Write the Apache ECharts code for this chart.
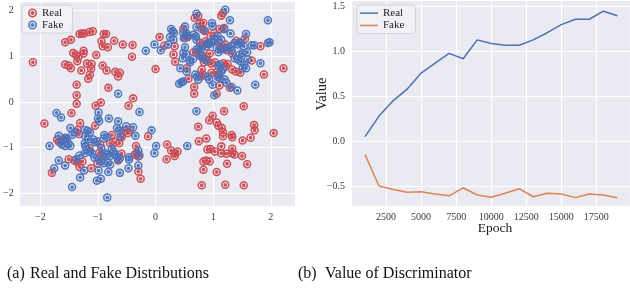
<!DOCTYPE html>
<html><head><meta charset="utf-8">
<script src="https://cdn.jsdelivr.net/npm/echarts@6/dist/echarts.min.js"></script>
<style>html,body{margin:0;padding:0;background:#fff}#c{width:630px;height:288px}</style>
</head><body><div id="c"></div>
<script>
// ---- data ----
const realPoints = [
[-2.13,0.87],[-1.57,1.31],[-1.47,1.36],[-1.32,1.49],[-1.28,1.50],[-1.24,1.50],[-1.15,1.53],[-1.09,1.55],[-0.90,1.49],[-0.86,1.49],[-0.94,1.33],[-0.92,1.22],[-0.83,1.20],[-0.72,1.34],[-0.57,1.26],[-0.40,1.25],[-0.41,0.99],[-1.43,1.07],[-1.38,1.03],[-1.34,0.99],[-1.36,0.89],[-1.25,1.12],[-1.25,1.06],[-1.03,1.03],[-1.57,0.82],[-1.51,0.80],[-1.47,0.74],[-1.29,0.69],[-1.19,0.84],[-1.11,0.83],[-1.12,0.73],[-1.14,0.60],[-1.17,0.51],[-0.92,0.80],[-0.85,0.69],[-0.70,0.66],[-0.62,0.64],[-0.65,0.56],[-1.37,0.38],[-0.82,0.31],[-1.37,0.15],[-1.37,-0.04],[-0.95,-0.01],[-1.04,-0.08],[-0.39,0.08],[-0.47,-0.08],[0.00,0.72],
[0.07,1.42],[0.15,1.23],[0.33,1.22],[0.31,1.04],[0.34,0.88],[0.48,1.60],[0.51,1.40],[0.56,1.42],[0.54,0.74],[0.57,0.51],[0.67,0.33],[0.67,0.18],[0.68,1.84],[0.74,1.88],[0.77,1.72],[0.83,1.73],[0.80,1.60],[0.86,1.55],[0.77,1.29],[0.83,1.25],[0.87,1.33],[0.66,1.09],[0.71,1.08],[0.80,1.02],[0.88,0.99],[0.94,1.06],[0.84,0.87],[0.91,0.89],[0.97,0.84],[1.03,0.87],[0.80,0.71],[0.82,0.60],[0.79,0.56],[0.97,0.64],[1.06,0.65],[1.10,0.59],[1.14,1.89],[1.17,1.95],[1.11,1.60],[1.19,1.62],[0.96,1.44],[1.02,1.51],[1.10,1.29],[1.14,1.18],[1.21,1.26],[1.24,1.13],[1.33,1.06],[1.18,0.85],[1.25,0.83],[1.22,0.78],[1.33,0.71],[1.39,0.67],[1.47,0.64],[1.11,0.36],[1.29,0.31],[1.06,0.18],[1.55,1.38],[1.67,0.91],[1.82,1.22],[1.88,0.60],[2.22,0.74],[1.40,1.34],
[1.19,-0.20],[1.53,-0.09],[0.99,-0.30],[0.93,-0.40],[1.06,-0.45],[1.09,-0.52],[1.15,-0.57],[1.17,-0.66],[1.17,-0.75],[0.74,-0.54],[0.88,-0.80],[0.75,-0.86],[1.32,-0.72],[1.33,-0.77],[1.51,-0.84],[1.65,-0.78],[1.71,-0.50],[1.72,-0.62],[2.05,-0.68],[1.14,-0.97],[0.90,-1.04],[0.95,-1.03],[1.03,-1.08],[1.14,-1.12],[1.23,-1.13],[1.33,-1.02],[1.33,-1.12],[1.37,-1.15],[1.50,-1.18],[0.83,-1.30],[0.88,-1.28],[0.94,-1.30],[1.24,-1.35],[1.59,-1.36],[0.83,-1.48],[1.06,-1.53],[0.80,-1.82],[1.21,-1.81],[1.53,-1.82],
[-0.13,-0.75],[0.20,-0.93],[0.27,-1.06],[0.33,-1.12],[0.38,-1.08],[0.19,-1.25],[0.33,-1.18],
[-1.93,-0.47],[-1.46,-0.24],[-1.31,-0.46],[-1.35,-0.61],[-1.33,-0.70],[-1.71,-0.82],[-1.68,-0.87],[-1.62,-0.84],[-1.58,-0.80],[-1.05,-0.52],[-0.96,-0.93],[-1.15,-1.01],[-0.79,-0.90],[-0.70,-0.88],[-0.63,-0.90],[-0.59,-0.77],[-0.54,-0.63],[-0.48,-0.68],[-0.45,-0.61],[-0.76,-0.72],[-0.34,-0.96],[-0.33,-1.12],[-0.36,-1.15],[-0.30,-1.19],[-0.59,-1.13],[-0.98,-1.12],[-0.94,-1.18],[-1.01,-1.34],[-1.27,-1.30],[-1.51,-1.25],[-1.41,-1.28],[-1.36,-1.31],[-1.32,-1.42],[-1.12,-1.45],[-0.30,-1.52],[-0.26,-1.68],[-1.80,-1.55],[-0.65,-1.28]
];
const fakePoints = [
[-0.17,1.12],[-0.02,1.26],[0.09,1.13],[0.22,1.26],[0.27,1.60],[0.30,1.55],[0.32,1.51],[0.25,1.42],[0.31,1.36],[0.51,1.65],[0.54,1.50],[0.66,1.47],[0.70,1.44],[0.71,1.36],[0.51,1.20],[0.53,1.05],[0.47,0.96],[0.60,0.87],[0.43,0.74],[0.45,0.43],[0.41,0.40],[0.71,1.93],[0.71,1.64],[0.98,1.73],[0.99,1.66],[0.84,1.57],[0.71,1.15],[0.76,1.18],[0.79,1.16],[0.82,0.96],[0.88,0.91],[0.69,0.60],[0.72,0.56],[0.74,0.49],[0.90,0.56],[0.93,0.49],[0.99,0.38],[1.02,0.15],[0.88,1.22],[0.93,1.27],[0.97,1.31],[1.03,1.36],[1.06,1.18],[1.09,1.09],[1.14,1.15],[1.20,1.16],[1.26,1.18],[1.32,1.13],[1.21,2.02],[1.29,1.79],[1.19,1.59],[1.30,1.50],[1.37,1.29],[1.43,1.26],[1.46,1.31],[1.53,1.22],[1.59,1.09],[1.57,1.49],[1.37,0.96],[1.46,1.04],[1.47,0.89],[1.54,0.82],[1.57,0.74],[1.09,0.78],[1.14,0.67],[1.20,0.49],[1.23,0.42],[1.32,0.33],[1.42,0.25],[1.11,0.53],[1.71,1.24],[1.67,1.24],[1.82,0.85],[1.73,0.38],[1.95,1.79],[1.95,1.29],[1.98,1.31],
[0.48,1.51],[0.49,1.40],[0.56,1.45],[0.48,1.07],[0.54,0.67],[0.48,0.45],[1.11,0.82],[1.17,0.72],[1.08,0.55],[1.43,0.93],[1.51,1.07],[1.51,0.74],[1.60,0.93],[0.91,1.29],[1.02,1.38],[1.08,1.44],[1.31,1.22],[0.65,0.94],[0.78,1.00],[1.48,1.29],[1.14,1.36],[0.59,0.91],
[-0.65,0.18],[-1.72,-0.24],[-1.64,-0.34],[-0.99,-0.23],[-1.00,-0.36],[-0.98,-0.42],[-0.81,-0.36],[-0.65,-0.42],[-0.28,-0.22],[-1.48,-0.57],[-1.45,-0.72],[-1.40,-0.66],[-1.23,-0.61],[-1.18,-0.63],[-1.14,-0.66],[-1.22,-0.75],[-1.17,-0.82],[-0.89,-0.72],[-0.84,-0.77],[-0.90,-0.80],[-0.67,-0.57],[-0.63,-0.62],[-0.61,-0.75],[-0.51,-0.53],[-0.39,-0.55],[-0.35,-0.74],[-0.07,-0.62],[-1.84,-0.96],[-1.68,-0.74],[-1.65,-0.88],[-1.63,-0.93],[-1.57,-0.96],[-1.51,-0.91],[-1.48,-0.96],[-1.23,-0.90],[-1.22,-0.97],[-1.19,-1.04],[-1.23,-1.12],[-1.08,-0.82],[-1.05,-0.88],[-1.02,-0.86],[-1.14,-1.08],[-1.10,-1.12],[-0.94,-1.01],[-0.88,-1.12],[-0.85,-1.16],[-0.79,-1.18],[-0.70,-1.15],[-0.76,-1.02],[-0.73,-1.08],[-0.67,-1.19],[-0.62,-1.23],[-1.32,-1.17],[-1.06,-1.22],[-0.98,-1.26],[-0.94,-1.30],[-0.90,-1.34],[-0.83,-1.32],[-0.79,-1.37],[-0.65,-1.25],[-0.46,-1.21],[-0.46,-1.26],[-0.30,-1.06],[-0.28,-1.17],[-0.30,-1.39],[-0.47,-1.45],[-0.62,-1.55],[-0.82,-1.53],[-0.99,-1.50],[-1.24,-1.50],[-1.57,-1.39],[-1.68,-1.28],[-1.76,-1.45],[-1.31,-1.65],[-1.02,-1.72],[-0.95,-1.68],[-1.45,-1.86],[-0.84,-2.09],[0.01,-0.96],[-0.02,-1.12],[0.55,-0.96],[0.71,-0.20],[-1.57,-0.78],[-1.54,-0.80],[-1.38,-1.25]
];
const epochs = [1000,2000,3000,4000,5000,6000,7000,8000,9000,10000,11000,12000,13000,14000,15000,16000,17000,18000,19000];
const realValues = [0.05,0.28,0.45,0.58,0.76,0.87,0.98,0.92,1.13,1.09,1.07,1.07,1.13,1.21,1.30,1.36,1.36,1.45,1.40];
const fakeValues = [-0.15,-0.50,-0.54,-0.57,-0.565,-0.59,-0.61,-0.52,-0.60,-0.625,-0.58,-0.53,-0.62,-0.58,-0.59,-0.63,-0.59,-0.60,-0.63];
const seriesNames = ['Real','Fake'];
const captionA = ['(a)','Real and Fake Distributions'];
const captionB = ['(b)','Value of Discriminator'];
const xNameB = 'Epoch';
const yNameB = 'Value';

// ---- style ----
const SERIF = "'Liberation Serif','Times New Roman',serif";
const RED = '#cc4850', BLUE = '#4a72ba';
const LBLUE = '#4c72b0', LORANGE = '#dd8452';
const BG = '#eaeaf2';
const ring = 'path://M0,10A10,10,0,1,0,20,10A10,10,0,1,0,0,10ZM3.6,10A6.4,6.4,0,1,1,16.4,10A6.4,6.4,0,1,1,3.6,10ZM5.6,10A4.4,4.4,0,1,0,14.4,10A4.4,4.4,0,1,0,5.6,10Z';
const minus = s => String(s).replace('-', '\u2212');
const lbl = {fontFamily: SERIF, fontSize: 10, color: '#3a3a3a'};

const chart = echarts.init(document.getElementById('c'), null, {renderer: 'canvas'});
chart.setOption({
  animation: false,
  backgroundColor: '#fff',
  grid: [
    {left: 18, top: 1, width: 277, height: 205.7, show: true, backgroundColor: BG, borderWidth: 0},
    {left: 351, top: 0, right: 0, height: 206.7, show: true, backgroundColor: BG, borderWidth: 0}
  ],
  xAxis: [
    {type: 'value', gridIndex: 0, min: -2.36, max: 2.42, splitNumber: 5,
     axisLine: {show: false}, axisTick: {show: false},
     splitLine: {lineStyle: {color: '#fff', width: 1.2}},
     axisLabel: Object.assign({margin: 6, showMinLabel: false, showMaxLabel: false, formatter: v => minus(v)}, lbl)},
    {type: 'value', gridIndex: 1, min: 0, max: 19900, interval: 2500,
     axisLine: {show: false}, axisTick: {show: false},
     splitLine: {lineStyle: {color: '#fff', width: 1.2}},
     axisLabel: Object.assign({margin: 6, showMinLabel: false, showMaxLabel: false, formatter: v => String(v)}, lbl)}
  ],
  yAxis: [
    {type: 'value', gridIndex: 0, min: -2.29, max: 2.21, splitNumber: 5,
     axisLine: {show: false}, axisTick: {show: false},
     splitLine: {lineStyle: {color: '#fff', width: 1.2}},
     axisLabel: Object.assign({margin: 6, showMinLabel: false, showMaxLabel: false, formatter: v => minus(v)}, lbl)},
    {type: 'value', gridIndex: 1, min: -0.731, max: 1.575, splitNumber: 5,
     axisLine: {show: false}, axisTick: {show: false},
     splitLine: {lineStyle: {color: '#fff', width: 1.2}},
     axisLabel: Object.assign({margin: 6, showMinLabel: false, showMaxLabel: false, formatter: v => minus(v.toFixed(1))}, lbl)}
  ],
  legend: [
    {left: 22, top: 5, orient: 'vertical', padding: [2, 9, 2, 6], itemWidth: 9, itemHeight: 9, itemGap: 0, itemTextGap: 6,
     backgroundColor: 'rgba(242,242,247,0.85)', borderColor: '#d2d2da', borderWidth: 1, borderRadius: 3,
     textStyle: {fontFamily: SERIF, fontSize: 11, color: '#262626', lineHeight: 12},
     data: seriesNames.map(n => ({name: n}))},
    {left: 357, top: 5, orient: 'vertical', padding: [2, 11, 2, 3], itemWidth: 18, itemHeight: 1.6, itemGap: 0, itemTextGap: 3,
     backgroundColor: 'rgba(242,242,247,0.85)', borderColor: '#d2d2da', borderWidth: 1, borderRadius: 3,
     textStyle: {fontFamily: SERIF, fontSize: 11, color: '#262626', lineHeight: 12.3},
     data: [{name: seriesNames[0], icon: 'rect', itemStyle: {color: LBLUE, borderWidth: 0}},
            {name: seriesNames[1], icon: 'rect', itemStyle: {color: LORANGE, borderWidth: 0}}]}
  ],
  series: [
    {name: seriesNames[0], type: 'scatter', xAxisIndex: 0, yAxisIndex: 0, data: realPoints,
     symbol: ring, symbolSize: 8.5, itemStyle: {color: RED, opacity: 0.95}, silent: true},
    {name: seriesNames[1], type: 'scatter', xAxisIndex: 0, yAxisIndex: 0, data: fakePoints,
     symbol: ring, symbolSize: 8.5, itemStyle: {color: BLUE, opacity: 0.95}, silent: true},
    {name: seriesNames[0], type: 'line', xAxisIndex: 1, yAxisIndex: 1, showSymbol: false, symbol: 'none',
     data: epochs.map((e, i) => [e, realValues[i]]), lineStyle: {color: LBLUE, width: 1.5}, itemStyle: {color: LBLUE}, silent: true},
    {name: seriesNames[1], type: 'line', xAxisIndex: 1, yAxisIndex: 1, showSymbol: false, symbol: 'none',
     data: epochs.map((e, i) => [e, fakeValues[i]]), lineStyle: {color: LORANGE, width: 1.5}, itemStyle: {color: LORANGE}, silent: true}
  ],
  graphic: [
    {type: 'text', left: 7, top: 266, style: {text: captionA[0], font: '16px ' + SERIF, fill: '#111'}},
    {type: 'text', left: 30, top: 266, style: {text: captionA[1], font: '16px ' + SERIF, fill: '#111'}},
    {type: 'text', left: 298, top: 266, style: {text: captionB[0], font: '16px ' + SERIF, fill: '#111'}},
    {type: 'text', left: 325, top: 266, style: {text: captionB[1], font: '16px ' + SERIF, fill: '#111'}},
    {type: 'text', x: 495, y: 228, style: {text: xNameB, font: '13.5px ' + SERIF, fill: '#1a1a1a', align: 'center', verticalAlign: 'middle'}},
    {type: 'text', x: 322, y: 94, rotation: Math.PI / 2, style: {text: yNameB, font: '14.5px ' + SERIF, fill: '#1a1a1a', align: 'center', verticalAlign: 'middle'}}
  ]
});
</script></body></html>
